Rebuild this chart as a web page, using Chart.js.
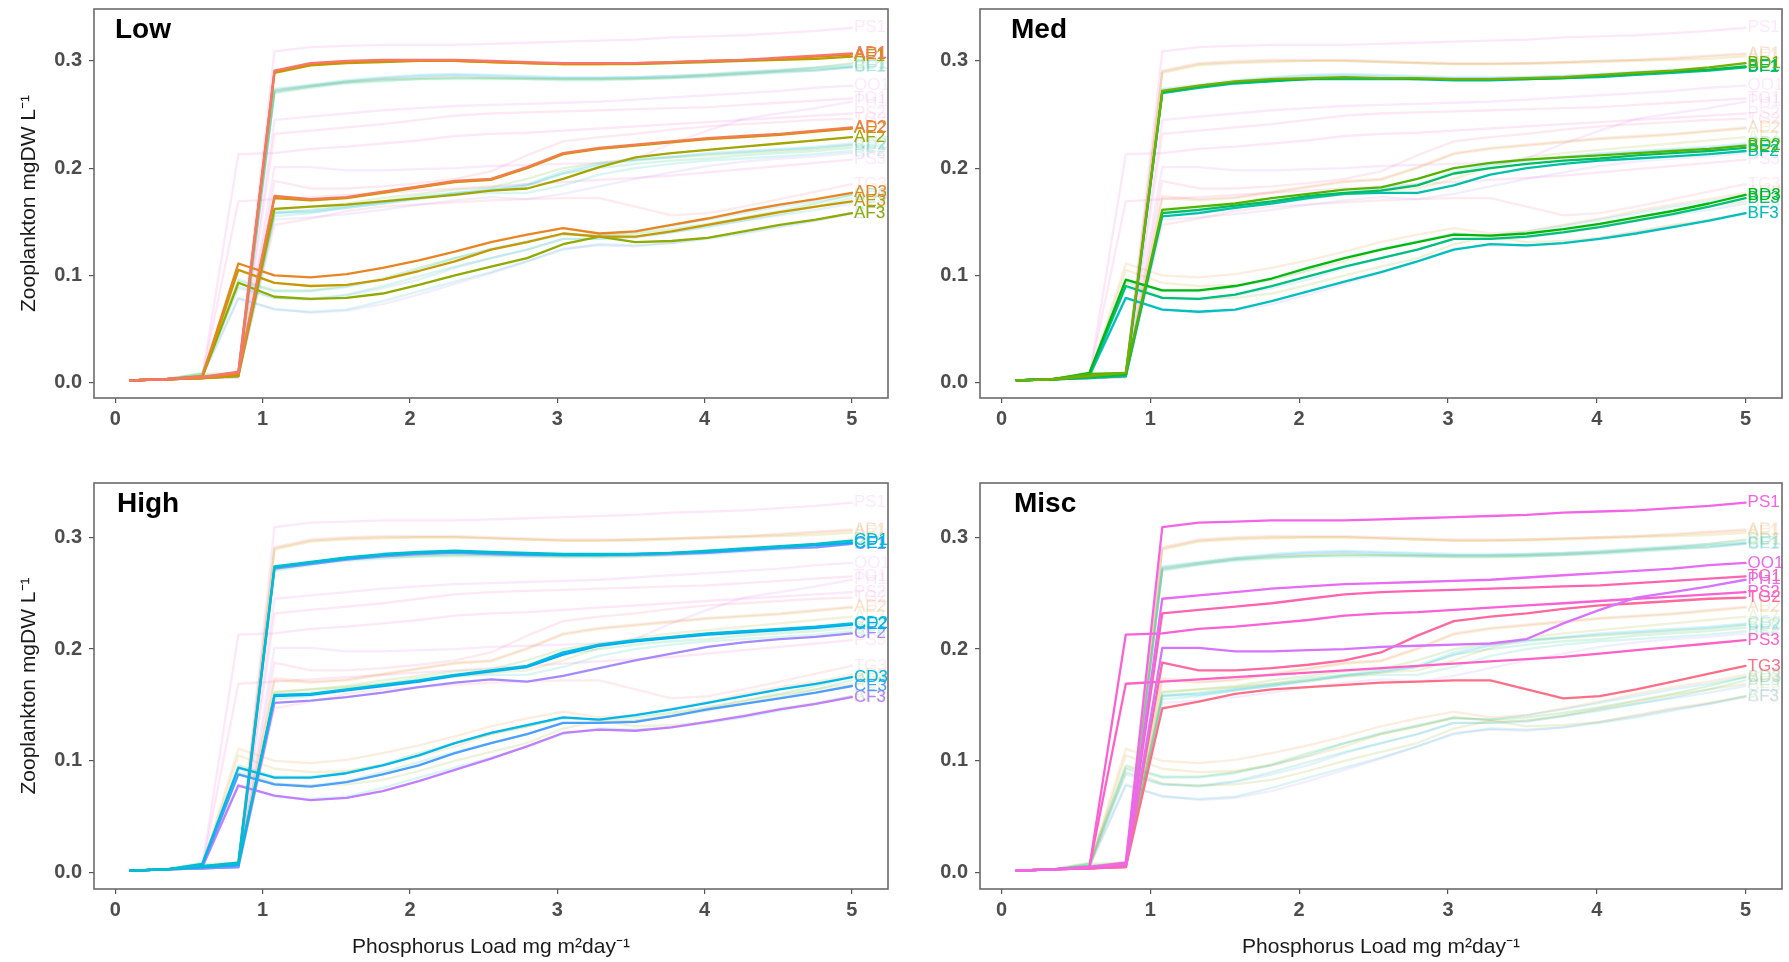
<!DOCTYPE html>
<html>
<head>
<meta charset="utf-8">
<title>Zooplankton vs phosphorus load</title>
<script src="https://cdn.jsdelivr.net/npm/chart.js@4.4.1/dist/chart.umd.min.js"></script>
<style>
  html, body { margin: 0; padding: 0; background: #fff; }
  #figure { position: relative; width: 1789px; height: 962px; }
  #figure canvas { position: absolute; }
</style>
</head>
<body>
<div id="figure">
  <canvas id="panelLow" width="894" height="481" style="left:0;top:0"></canvas>
  <canvas id="panelMed" width="895" height="481" style="left:894px;top:0"></canvas>
  <canvas id="panelHigh" width="894" height="481" style="left:0;top:481px"></canvas>
  <canvas id="panelMisc" width="895" height="481" style="left:894px;top:481px"></canvas>
</div>
<script>
// Phosphorus load steps (mg m2 day-1)
const loads = [0.1, 0.345, 0.59, 0.835, 1.08, 1.325, 1.57, 1.815, 2.06, 2.305, 2.55,
               2.795, 3.04, 3.285, 3.53, 3.775, 4.02, 4.265, 4.51, 4.755, 5.0];

// Zooplankton biomass (mgDW/L), one array per scenario
const AD1 = [0.002,0.003,0.005,0.010,0.291,0.298,0.300,0.301,0.301,0.301,0.300,0.299,0.298,0.298,0.298,0.299,0.300,0.301,0.303,0.305,0.307];
const AE1 = [0.002,0.003,0.004,0.008,0.290,0.297,0.299,0.300,0.300,0.300,0.299,0.298,0.297,0.297,0.298,0.299,0.300,0.301,0.302,0.304,0.306];
const AF1 = [0.002,0.003,0.004,0.006,0.289,0.296,0.298,0.299,0.300,0.300,0.299,0.298,0.297,0.297,0.297,0.298,0.299,0.300,0.301,0.302,0.304];
const AD2 = [0.002,0.003,0.005,0.009,0.174,0.171,0.173,0.178,0.183,0.188,0.190,0.201,0.214,0.219,0.222,0.225,0.228,0.230,0.232,0.235,0.238];
const AE2 = [0.002,0.003,0.004,0.008,0.172,0.170,0.172,0.177,0.182,0.187,0.189,0.200,0.213,0.218,0.221,0.224,0.227,0.229,0.231,0.234,0.237];
const AF2 = [0.002,0.003,0.004,0.006,0.162,0.164,0.166,0.169,0.172,0.175,0.179,0.181,0.190,0.201,0.210,0.214,0.217,0.220,0.223,0.226,0.229];
const AD3 = [0.002,0.003,0.006,0.111,0.100,0.098,0.101,0.107,0.114,0.122,0.131,0.138,0.144,0.139,0.141,0.147,0.153,0.160,0.166,0.171,0.177];
const AE3 = [0.002,0.003,0.005,0.105,0.093,0.090,0.091,0.096,0.104,0.113,0.124,0.131,0.139,0.136,0.136,0.141,0.147,0.153,0.159,0.164,0.169];
const AF3 = [0.002,0.003,0.005,0.093,0.080,0.078,0.079,0.083,0.091,0.100,0.108,0.116,0.129,0.136,0.131,0.132,0.135,0.141,0.147,0.152,0.158];

const BD1 = [0.002,0.003,0.006,0.009,0.272,0.277,0.281,0.283,0.284,0.285,0.284,0.284,0.283,0.283,0.284,0.285,0.287,0.289,0.291,0.294,0.298];
const BE1 = [0.002,0.003,0.005,0.007,0.271,0.276,0.280,0.282,0.283,0.284,0.284,0.283,0.283,0.283,0.283,0.284,0.286,0.288,0.290,0.292,0.295];
const BF1 = [0.002,0.003,0.004,0.006,0.270,0.275,0.279,0.281,0.283,0.283,0.283,0.283,0.282,0.282,0.283,0.284,0.285,0.287,0.289,0.291,0.294];
const BD2 = [0.002,0.003,0.008,0.009,0.161,0.164,0.167,0.172,0.176,0.180,0.182,0.190,0.200,0.205,0.208,0.210,0.212,0.214,0.216,0.218,0.221];
const BE2 = [0.002,0.003,0.006,0.007,0.158,0.161,0.165,0.169,0.174,0.177,0.179,0.184,0.195,0.200,0.204,0.207,0.209,0.212,0.214,0.216,0.219];
const BF2 = [0.002,0.003,0.005,0.006,0.155,0.158,0.163,0.167,0.172,0.176,0.177,0.177,0.184,0.194,0.200,0.204,0.207,0.209,0.211,0.213,0.216];
const BD3 = [0.002,0.003,0.009,0.096,0.086,0.086,0.090,0.097,0.107,0.116,0.124,0.131,0.138,0.137,0.139,0.143,0.148,0.154,0.160,0.167,0.175];
const BE3 = [0.002,0.003,0.007,0.090,0.079,0.078,0.082,0.090,0.099,0.108,0.116,0.124,0.134,0.134,0.136,0.140,0.145,0.151,0.157,0.164,0.172];
const BF3 = [0.002,0.003,0.006,0.079,0.068,0.066,0.068,0.076,0.085,0.094,0.103,0.113,0.124,0.129,0.128,0.130,0.134,0.139,0.145,0.151,0.158];

const CD1 = [0.002,0.003,0.006,0.009,0.274,0.278,0.282,0.285,0.287,0.288,0.287,0.286,0.285,0.285,0.285,0.286,0.288,0.290,0.292,0.294,0.297];
const CE1 = [0.002,0.003,0.005,0.007,0.273,0.277,0.281,0.284,0.286,0.287,0.286,0.285,0.284,0.284,0.285,0.286,0.287,0.289,0.291,0.293,0.295];
const CF1 = [0.002,0.003,0.004,0.005,0.272,0.276,0.280,0.283,0.285,0.286,0.285,0.284,0.284,0.284,0.284,0.285,0.286,0.288,0.290,0.291,0.294];
const CD2 = [0.002,0.003,0.006,0.008,0.159,0.160,0.164,0.168,0.172,0.177,0.181,0.185,0.197,0.204,0.208,0.211,0.214,0.216,0.218,0.220,0.223];
const CE2 = [0.002,0.003,0.005,0.007,0.158,0.159,0.163,0.167,0.171,0.176,0.180,0.184,0.195,0.203,0.207,0.210,0.213,0.215,0.217,0.219,0.222];
const CF2 = [0.002,0.003,0.004,0.005,0.152,0.154,0.157,0.161,0.166,0.170,0.173,0.171,0.176,0.183,0.190,0.196,0.202,0.206,0.209,0.211,0.214];
const CD3 = [0.002,0.003,0.008,0.094,0.085,0.085,0.089,0.096,0.105,0.116,0.125,0.132,0.139,0.137,0.141,0.146,0.152,0.158,0.164,0.169,0.175];
const CE3 = [0.002,0.003,0.006,0.088,0.079,0.077,0.081,0.088,0.096,0.107,0.116,0.124,0.134,0.134,0.135,0.140,0.146,0.151,0.156,0.161,0.167];
const CF3 = [0.002,0.003,0.005,0.078,0.069,0.065,0.067,0.073,0.082,0.092,0.102,0.113,0.125,0.128,0.127,0.130,0.135,0.140,0.146,0.151,0.157];

const PH1 = [0.002,0.003,0.004,0.006,0.201,0.201,0.198,0.198,0.199,0.200,0.202,0.203,0.204,0.205,0.209,0.223,0.235,0.246,0.251,0.256,0.262];
const OO1 = [0.002,0.003,0.005,0.008,0.245,0.248,0.251,0.254,0.256,0.258,0.259,0.260,0.261,0.262,0.264,0.266,0.268,0.270,0.272,0.275,0.277];
const PS1 = [0.002,0.003,0.005,0.009,0.309,0.313,0.314,0.315,0.315,0.315,0.316,0.317,0.318,0.319,0.320,0.322,0.323,0.324,0.326,0.328,0.331];
const PS2 = [0.002,0.003,0.005,0.213,0.214,0.218,0.220,0.223,0.226,0.230,0.232,0.233,0.235,0.237,0.239,0.241,0.243,0.245,0.247,0.249,0.251];
const PS3 = [0.002,0.003,0.005,0.169,0.171,0.173,0.175,0.177,0.179,0.181,0.183,0.185,0.187,0.189,0.191,0.193,0.196,0.199,0.202,0.205,0.208];
const TG1 = [0.002,0.003,0.004,0.006,0.232,0.235,0.238,0.241,0.245,0.249,0.251,0.252,0.253,0.254,0.255,0.256,0.257,0.259,0.261,0.263,0.265];
const TG2 = [0.002,0.003,0.004,0.005,0.188,0.181,0.181,0.183,0.186,0.190,0.197,0.212,0.225,0.229,0.232,0.236,0.239,0.241,0.243,0.245,0.246];
const TG3 = [0.002,0.003,0.004,0.005,0.147,0.153,0.160,0.164,0.166,0.168,0.170,0.171,0.172,0.172,0.164,0.156,0.158,0.164,0.171,0.178,0.185];

const seriesValues = {
  AD1, AD2, AD3, AE1, AE2, AE3, AF1, AF2, AF3,
  BD1, BD2, BD3, BE1, BE2, BE3, BF1, BF2, BF3,
  CD1, CD2, CD3, CE1, CE2, CE3, CF1, CF2, CF3,
  PH1, OO1, PS1, PS2, PS3, TG1, TG2, TG3
};
// colour order around the hue wheel
const seriesNames = Object.keys(seriesValues);

const lowGroup  = ['AD1','AD2','AD3','AE1','AE2','AE3','AF1','AF2','AF3'];
const medGroup  = ['BD1','BD2','BD3','BE1','BE2','BE3','BF1','BF2','BF3'];
const highGroup = ['CD1','CD2','CD3','CE1','CE2','CE3','CF1','CF2','CF3'];
const miscGroup = ['PS1','OO1','TG1','PH1','PS2','TG2','PS3','TG3'];

const xTicks = [0, 1, 2, 3, 4, 5];
const yTicks = [0, 0.1, 0.2, 0.3];

const FONT = '"Liberation Sans", Arial, Helvetica, sans-serif';

/**
 * ggplot-style hue colour: polar LUV -> sRGB
 */
function hcl(h, c, l) {
    const hr = h * Math.PI / 180;
    const U = c * Math.cos(hr), V = c * Math.sin(hr);
    const Y = Math.pow((l + 16) / 116, 3);
    const Xn = 0.95047, Yn = 1.0, Zn = 1.08883;
    const den = Xn + 15 * Yn + 3 * Zn;
    const u = U / (13 * l) + 4 * Xn / den;
    const v = V / (13 * l) + 9 * Yn / den;
    const X = Y * 9 * u / (4 * v);
    const Z = Y * (12 - 3 * u - 20 * v) / (4 * v);
    const lin = [
        3.2406 * X - 1.5372 * Y - 0.4986 * Z,
        -0.9689 * X + 1.8758 * Y + 0.0415 * Z,
        0.0557 * X - 0.2040 * Y + 1.0570 * Z
    ];
    return lin.map(c => {
        const g = c <= 0.0031308 ? 12.92 * c : 1.055 * Math.pow(c, 1 / 2.4) - 0.055;
        return Math.round(Math.min(1, Math.max(0, g)) * 255);
    });
}

const seriesRgb = {};
seriesNames.forEach((name, i) => {
    seriesRgb[name] = hcl(15 + 360 * i / seriesNames.length, 100, 65);
});

function rgba(name, a) {
    const [r, g, b] = seriesRgb[name];
    return `rgba(${r}, ${g}, ${b}, ${a})`;
}

// end-of-line series names, clipped to the panel
const endLabels = {
    id: 'endLabels',
    afterDatasetsDraw(chart) {
        const { ctx, chartArea: a } = chart;
        ctx.save();
        ctx.beginPath();
        ctx.rect(a.left, a.top, a.right - a.left, a.bottom - a.top);
        ctx.clip();
        ctx.font = `17px ${FONT}`;
        ctx.textAlign = 'left';
        ctx.textBaseline = 'middle';
        const sets = chart.data.datasets;
        for (let i = sets.length - 1; i >= 0; i--) {
            const pts = chart.getDatasetMeta(i).data;
            const last = pts[pts.length - 1];
            ctx.fillStyle = sets[i].borderColor;
            ctx.fillText(sets[i].label, last.x + 2, last.y);
        }
        ctx.restore();
    }
};

// box around the panel plus the panel name
const panelFrame = {
    id: 'panelFrame',
    afterDraw(chart, args, opts) {
        const { ctx, chartArea: a } = chart;
        ctx.save();
        ctx.strokeStyle = '#6b6b6b';
        ctx.lineWidth = 1.6;
        ctx.strokeRect(a.left, a.top, a.right - a.left, a.bottom - a.top);
        ctx.fillStyle = '#000';
        ctx.font = `bold 28px ${FONT}`;
        ctx.textAlign = 'left';
        ctx.textBaseline = 'alphabetic';
        ctx.fillText(opts.text, a.left + opts.dx, a.top + 29);
        ctx.restore();
    }
};

function buildPanel(canvasId, title, group, layout) {
    const others = seriesNames.filter(n => !group.includes(n));
    const toPoints = name => seriesValues[name].map((v, i) => ({ x: loads[i], y: v }));

    // first dataset is painted last, so the highlighted group goes first
    const datasets = [
        ...group.map(name => ({
            label: name,
            data: toPoints(name),
            borderColor: rgba(name, 1),
            borderWidth: 2.3
        })),
        ...others.map(name => ({
            label: name,
            data: toPoints(name),
            borderColor: rgba(name, 0.15),
            borderWidth: 2.3
        }))
    ];

    return new Chart(document.getElementById(canvasId), {
        type: 'line',
        data: { datasets },
        plugins: [endLabels, panelFrame],
        options: {
            responsive: false,
            animation: false,
            devicePixelRatio: 1,
            layout: { padding: { top: layout.top, right: layout.right, left: 0, bottom: 0 } },
            elements: {
                point: { radius: 0 },
                line: { tension: 0, borderJoinStyle: 'round', borderCapStyle: 'round' }
            },
            plugins: {
                legend: { display: false },
                tooltip: { enabled: false },
                panelFrame: { text: title, dx: layout.titleDx }
            },
            scales: {
                x: {
                    type: 'linear',
                    min: -0.145,
                    max: 5.245,
                    afterBuildTicks: s => { s.ticks = xTicks.map(v => ({ value: v })); },
                    afterFit: s => {
                        s.height = layout.xHeight;
                        s.paddingLeft = 0;
                        s.paddingRight = 0;
                    },
                    grid: { drawOnChartArea: false, drawTicks: true, tickLength: 5, color: '#555', lineWidth: 1.2 },
                    border: { display: false },
                    ticks: {
                        padding: 4,
                        color: '#4d4d4d',
                        font: { family: FONT, size: 20, weight: 'bold' },
                        callback: v => String(v)
                    },
                    title: {
                        display: layout.xTitle,
                        text: 'Phosphorus Load mg m²day⁻¹',
                        color: '#1a1a1a',
                        font: { family: FONT, size: 21 },
                        padding: { top: 0, bottom: 2 }
                    }
                },
                y: {
                    type: 'linear',
                    min: -0.0145,
                    max: 0.3485,
                    afterBuildTicks: s => { s.ticks = yTicks.map(v => ({ value: v })); },
                    afterFit: s => {
                        s.width = layout.yWidth;
                        s.paddingTop = 0;
                        s.paddingBottom = 0;
                    },
                    grid: { drawOnChartArea: false, drawTicks: true, tickLength: 5, color: '#555', lineWidth: 1.2 },
                    border: { display: false },
                    ticks: {
                        padding: 7,
                        color: '#4d4d4d',
                        font: { family: FONT, size: 20, weight: 'bold' },
                        callback: v => v.toFixed(1)
                    },
                    title: {
                        display: layout.yTitle,
                        text: 'Zooplankton mgDW L⁻¹',
                        color: '#1a1a1a',
                        font: { family: FONT, size: 21 },
                        padding: { top: 17, bottom: 0 }
                    }
                }
            }
        }
    });
}

buildPanel('panelLow', 'Low', lowGroup,
    { top: 9, right: 6, yWidth: 94, xHeight: 83, yTitle: true, xTitle: false, titleDx: 21 });
buildPanel('panelMed', 'Med', medGroup,
    { top: 9, right: 7, yWidth: 86, xHeight: 83, yTitle: false, xTitle: false, titleDx: 31 });
buildPanel('panelHigh', 'High', highGroup,
    { top: 2, right: 6, yWidth: 94, xHeight: 73, yTitle: true, xTitle: true, titleDx: 23 });
buildPanel('panelMisc', 'Misc', miscGroup,
    { top: 2, right: 7, yWidth: 86, xHeight: 73, yTitle: false, xTitle: true, titleDx: 34 });
</script>
</body>
</html>
